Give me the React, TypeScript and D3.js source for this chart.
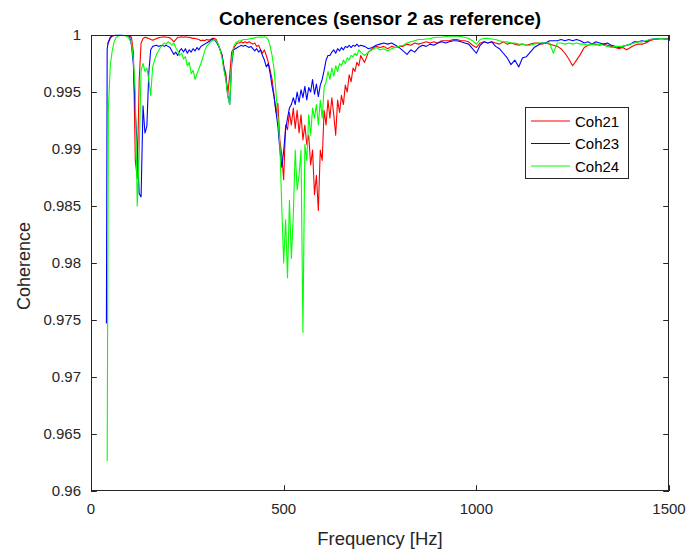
import React from 'react';
import * as d3 from 'd3';

const freqHz = [40, 42, 45, 50, 55, 60, 65, 70, 75, 80,
  85, 90, 95, 100, 105, 110, 115, 120, 125, 130,
  135, 140, 145, 150, 155, 160, 165, 170, 175, 180,
  185, 190, 195, 200, 205, 210, 215, 220, 225, 230,
  235, 240, 245, 250, 255, 260, 265, 270, 275, 280,
  285, 290, 295, 300, 305, 310, 315, 320, 325, 330,
  335, 340, 345, 350, 355, 360, 365, 370, 375, 380,
  385, 390, 395, 400, 405, 410, 415, 420, 425, 430,
  435, 440, 445, 450, 455, 460, 465, 470, 475, 480,
  485, 490, 495, 500, 505, 510, 515, 520, 525, 530,
  535, 540, 545, 550, 555, 560, 565, 570, 575, 580,
  585, 590, 595, 600, 605, 610, 615, 620, 625, 630,
  635, 640, 645, 650, 655, 660, 665, 670, 675, 680,
  685, 690, 695, 700, 710, 720, 730, 740, 750, 760,
  770, 780, 790, 800, 810, 820, 830, 840, 850, 860,
  870, 880, 890, 900, 910, 920, 930, 940, 950, 960,
  970, 980, 990, 1000, 1010, 1020, 1030, 1040, 1050, 1060,
  1070, 1080, 1090, 1100, 1110, 1120, 1130, 1140, 1150, 1160,
  1170, 1180, 1190, 1200, 1210, 1220, 1230, 1240, 1250, 1260,
  1270, 1280, 1290, 1300, 1310, 1320, 1330, 1340, 1350, 1360,
  1370, 1380, 1390, 1400, 1410, 1420, 1430, 1440, 1450, 1460,
  1470, 1480, 1490, 1500];

const coh21 = [null, 0.9992, 0.9993, 0.9997, 0.9999, 0.99995, 0.99995, 0.99996, 0.99996, 0.99995,
  0.99995, 0.99994, 0.99993, 0.99992, 0.9998, 0.9985, 0.9890, 0.9874, 0.9960, 0.9993,
  0.9997, 0.9998, 0.99975, 0.9997, 0.9996, 0.99955, 0.9996, 0.9997, 0.99975, 0.9998,
  0.9998, 0.99985, 0.9998, 0.9998, 0.99975, 0.9996, 0.9994, 0.9996, 0.9998, 0.9998,
  0.99985, 0.9998, 0.99985, 0.9998, 0.9998, 0.99975, 0.9997, 0.9997, 0.99965, 0.9996,
  0.9995, 0.99955, 0.9995, 0.9996, 0.99955, 0.9996, 0.9997, 0.9997, 0.9996, 0.9992,
  0.9987, 0.9983, 0.9972, 0.9966, 0.9948, 0.9965, 0.9985, 0.9988, 0.9991, 0.9993,
  0.9993, 0.9994, 0.9993, 0.9994, 0.9993, 0.9994, 0.9993, 0.9992, 0.9993, 0.9990,
  0.9991, 0.9987, 0.9984, 0.9987, 0.9982, 0.9976, 0.9969, 0.9961, 0.9947, 0.9932,
  0.9940, 0.9908, 0.9895, 0.9873, 0.9921, 0.9917, 0.9932, 0.9921, 0.9936, 0.9918,
  0.9934, 0.9914, 0.9930, 0.9908, 0.9921, 0.9904, 0.9912, 0.9886, 0.9899, 0.9860,
  0.9877, 0.9846, 0.9899, 0.9890, 0.9934, 0.9921, 0.9943, 0.9927, 0.9945, 0.9930,
  0.9912, 0.9943, 0.9932, 0.9947, 0.9939, 0.9956, 0.9950, 0.9965, 0.9959, 0.9971,
  0.9968, 0.9976, 0.9973, 0.9982, 0.9976, 0.9985, 0.9988, 0.9990, 0.9989, 0.9990,
  0.9988, 0.9990, 0.9989, 0.9990, 0.9990, 0.9992, 0.9991, 0.9993, 0.9992, 0.9993,
  0.9994, 0.9993, 0.9994, 0.9993, 0.9995, 0.9995, 0.9995, 0.9996, 0.9996, 0.9995,
  0.9995, 0.9994, 0.9991, 0.9989, 0.9993, 0.9994, 0.9993, 0.9994, 0.9993, 0.9992,
  0.9994, 0.9992, 0.9993, 0.9992, 0.9991, 0.9992, 0.9991, 0.9992, 0.9993, 0.9993,
  0.9992, 0.9993, 0.9992, 0.9991, 0.9990, 0.9988, 0.9984, 0.9979, 0.9973, 0.9978,
  0.9983, 0.9989, 0.9991, 0.9992, 0.9992, 0.9991, 0.9992, 0.9991, 0.9990, 0.9989,
  0.9988, 0.9989, 0.9987, 0.9989, 0.9991, 0.9992, 0.9992, 0.9993, 0.9995, 0.9996,
  0.99965, 0.9997, 0.99965, 0.99965];

const coh23 = [0.9747, 0.9988, 0.9994, 0.9998, 0.99993, 0.99995, 0.99997, 0.99997, 0.99998, 0.99997,
  0.99996, 0.99995, 0.99993, 0.9999, 0.9991, 0.9974, 0.9932, 0.9903, 0.9861, 0.9858,
  0.9938, 0.9914, 0.9920, 0.9967, 0.9987, 0.9990, 0.99905, 0.9991, 0.9990, 0.99905,
  0.9991, 0.9990, 0.9991, 0.9990, 0.9989, 0.9986, 0.9983, 0.9985, 0.9982, 0.9986,
  0.9988, 0.9985, 0.9988, 0.9984, 0.9987, 0.9985, 0.9988, 0.9986, 0.9989, 0.9987,
  0.9990, 0.9991, 0.9992, 0.9993, 0.9994, 0.9995, 0.99965, 0.9996, 0.9994, 0.9991,
  0.9987, 0.9982, 0.9971, 0.9962, 0.9947, 0.9939, 0.9974, 0.9987, 0.9988, 0.9989,
  0.9990, 0.9991, 0.9990, 0.9991, 0.9990, 0.9989, 0.9990, 0.9988, 0.9986, 0.9988,
  0.9985, 0.9987, 0.9982, 0.9978, 0.9972, 0.9975, 0.9966, 0.9955, 0.9946, 0.9933,
  0.9920, 0.9900, 0.9884, 0.9898, 0.9917, 0.9927, 0.9936, 0.9939, 0.9945, 0.9939,
  0.9950, 0.9941, 0.9952, 0.9945, 0.9955, 0.9943, 0.9954, 0.9950, 0.9961, 0.9948,
  0.9957, 0.9946, 0.9956, 0.9961, 0.9969, 0.9978, 0.9982, 0.9982, 0.9985, 0.9987,
  0.9984, 0.9988, 0.9986, 0.9989, 0.9987, 0.9990, 0.9989, 0.9991, 0.9989, 0.9991,
  0.9990, 0.9992, 0.9990, 0.9991, 0.9990, 0.9988, 0.9989, 0.9991, 0.9992, 0.9993,
  0.9992, 0.9993, 0.9991, 0.9989, 0.9986, 0.9983, 0.9987, 0.9985, 0.9989, 0.9991,
  0.9990, 0.9992, 0.9991, 0.9993, 0.9994, 0.9993, 0.9994, 0.9995, 0.9995, 0.9994,
  0.9993, 0.9992, 0.9988, 0.9984, 0.9991, 0.9994, 0.9993, 0.9994, 0.9990, 0.9988,
  0.9984, 0.9980, 0.9974, 0.9978, 0.9972, 0.9980, 0.9981, 0.9985, 0.9989, 0.9991,
  0.9993, 0.9993, 0.9995, 0.9995, 0.9995, 0.9996, 0.9995, 0.9996, 0.9995, 0.9996,
  0.9995, 0.9993, 0.9994, 0.9992, 0.9994, 0.9993, 0.9992, 0.9993, 0.9991, 0.9990,
  0.9989, 0.9990, 0.9991, 0.9992, 0.9994, 0.9994, 0.9995, 0.9994, 0.9996, 0.99965,
  0.99965, 0.9997, 0.99965, 0.99965];

const coh24 = [null, 0.9626, 0.9934, 0.9973, 0.9986, 0.9994, 0.99975, 0.9999, 0.99995, 0.99996,
  0.99996, 0.99994, 0.99985, 0.9996, 0.9993, 0.9978, 0.9950, 0.9850, 0.9895, 0.9969,
  0.9975, 0.9968, 0.9971, 0.9961, 0.9947, 0.9972, 0.9978, 0.9983, 0.9986, 0.9989,
  0.9991, 0.9993, 0.9992, 0.9994, 0.9993, 0.9991, 0.9993, 0.9989, 0.9986, 0.9982,
  0.9984, 0.9979, 0.9981, 0.9973, 0.9976, 0.9966, 0.9969, 0.9961, 0.9966, 0.9970,
  0.9975, 0.9980, 0.9986, 0.9990, 0.9992, 0.9994, 0.9995, 0.9996, 0.9995, 0.9992,
  0.9987, 0.9980, 0.9969, 0.9961, 0.9946, 0.9939, 0.9976, 0.9990, 0.9993, 0.9994,
  0.9995, 0.9995, 0.9996, 0.9996, 0.9996, 0.99965, 0.9997, 0.9997, 0.99975, 0.9998,
  0.9998, 0.99985, 0.9998, 0.99985, 0.9998, 0.9996, 0.9990, 0.9982, 0.9970, 0.9950,
  0.9928, 0.9905, 0.9850, 0.9800, 0.9838, 0.9787, 0.9855, 0.9804, 0.9842, 0.9899,
  0.9864, 0.9877, 0.9899, 0.9739, 0.9904, 0.9890, 0.9930, 0.9912, 0.9936, 0.9927,
  0.9939, 0.9921, 0.9943, 0.9927, 0.9954, 0.9959, 0.9968, 0.9961, 0.9971, 0.9964,
  0.9973, 0.9968, 0.9975, 0.9973, 0.9978, 0.9975, 0.9980, 0.9978, 0.9982, 0.9981,
  0.9984, 0.9982, 0.9987, 0.9985, 0.9982, 0.9985, 0.9987, 0.9989, 0.9987, 0.9988,
  0.9986, 0.9988, 0.9989, 0.9990, 0.9991, 0.9993, 0.9994, 0.9995, 0.9996, 0.9996,
  0.99965, 0.9997, 0.99978, 0.9998, 0.9998, 0.99987, 0.9999, 0.9999, 0.9999, 0.99987,
  0.9998, 0.9997, 0.9995, 0.9992, 0.9996, 0.9997, 0.9997, 0.99965, 0.9996, 0.9995,
  0.9994, 0.9994, 0.9993, 0.9993, 0.9992, 0.9992, 0.9991, 0.9991, 0.9992, 0.9993,
  0.9993, 0.9993, 0.9993, 0.9984, 0.9993, 0.9993, 0.9992, 0.9993, 0.9992, 0.9993,
  0.9992, 0.9992, 0.9991, 0.9992, 0.9991, 0.9992, 0.9991, 0.9990, 0.9989, 0.9990,
  0.9990, 0.9990, 0.9991, 0.9992, 0.9993, 0.9994, 0.9994, 0.9995, 0.9996, 0.99965,
  0.99965, 0.9997, 0.99965, 0.9996];

const seriesNames = ['Coh21', 'Coh23', 'Coh24'];
const seriesColors = ['#ff0000', '#0000ff', '#00ff00'];
const xTickValues = [0, 500, 1000, 1500];
const xTickLabels = ['0', '500', '1000', '1500'];
const yTickValues = [0.96, 0.965, 0.97, 0.975, 0.98, 0.985, 0.99, 0.995, 1];
const yTickLabels = ['0.96', '0.965', '0.97', '0.975', '0.98', '0.985', '0.99', '0.995', '1'];
const titleText = 'Coherences (sensor 2 as reference)';
const xLabelText = 'Frequency [Hz]';
const yLabelText = 'Coherence';

const W = 691;
const H = 549;
const L = 91, R = 669, T = 35, B = 491;
const FONT = "'Liberation Sans', Arial, Helvetica, sans-serif";
const AX = '#262626';

export default function App() {
  const x = d3.scaleLinear().domain([0, 1500]).range([L, R]);
  const y = d3.scaleLinear().domain([0.96, 1]).range([B, T]);
  const series = [coh21, coh23, coh24];
  const mkLine = (vals: (number | null)[]) =>
    d3.line<number | null>()
      .defined((d) => d != null)
      .x((_, i) => x(freqHz[i]))
      .y((d) => y(d as number))(vals) || '';
  const tick = 5.8;
  const legX = 525.5, legY = 107.5, legW = 103, legH = 71;
  const legRows = [121, 143.5, 166];
  return (
    <svg width={W} height={H} style={{ position: 'absolute', left: 0, top: 0, background: '#fff' }}
      fontFamily={FONT}>
      <rect x={0} y={0} width={W} height={H} fill="#fff" />
      <defs>
        <clipPath id="plotclip">
          <rect x={L} y={T - 1} width={R - L} height={B - T + 1} />
        </clipPath>
      </defs>
      <g clipPath="url(#plotclip)">
        {series.map((s, i) => (
          <path key={i} d={mkLine(s)} fill="none" stroke={seriesColors[i]} strokeWidth={1.1}
            strokeLinejoin="round" />
        ))}
      </g>
      <rect x={L + 0.5} y={T + 0.5} width={R - L - 1} height={B - T - 1} fill="none" stroke={AX} strokeWidth={1} />
      {xTickValues.map((v, i) => {
        const px = Math.round(x(v)) + 0.5;
        return (
          <g key={'xt' + i}>
            <line x1={px} x2={px} y1={B} y2={B - tick} stroke={AX} />
            <line x1={px} x2={px} y1={T} y2={T + tick} stroke={AX} />
            <text x={x(v)} y={B + 23} fontSize={15} textAnchor="middle" fill={AX}>{xTickLabels[i]}</text>
          </g>
        );
      })}
      {yTickValues.map((v, i) => {
        const py = Math.round(y(v)) + 0.5;
        return (
          <g key={'yt' + i}>
            <line x1={L} x2={L + tick} y1={py} y2={py} stroke={AX} />
            <line x1={R} x2={R - tick} y1={py} y2={py} stroke={AX} />
            <text x={L - 10} y={y(v) + 5} fontSize={15} textAnchor="end" fill={AX}>{yTickLabels[i]}</text>
          </g>
        );
      })}
      <text x={(L + R) / 2} y={25} fontSize={19} fontWeight="bold" textAnchor="middle" fill="#000">{titleText}</text>
      <text x={(L + R) / 2} y={545} fontSize={18.5} textAnchor="middle" fill={AX}>{xLabelText}</text>
      <text transform={`translate(30, ${(T + B) / 2 + 3}) rotate(-90)`} fontSize={18} textAnchor="middle" fill={AX}>{yLabelText}</text>
      <rect x={legX} y={legY} width={legW} height={legH} fill="#fff" stroke={AX} strokeWidth={1} />
      {seriesNames.map((n, i) => (
        <g key={'lg' + i}>
          <line x1={531} x2={570} y1={legRows[i]} y2={legRows[i]} stroke={seriesColors[i]} strokeWidth={1.1} />
          <text x={575} y={legRows[i] + 5.5} fontSize={15} fill="#000">{n}</text>
        </g>
      ))}
    </svg>
  );
}
